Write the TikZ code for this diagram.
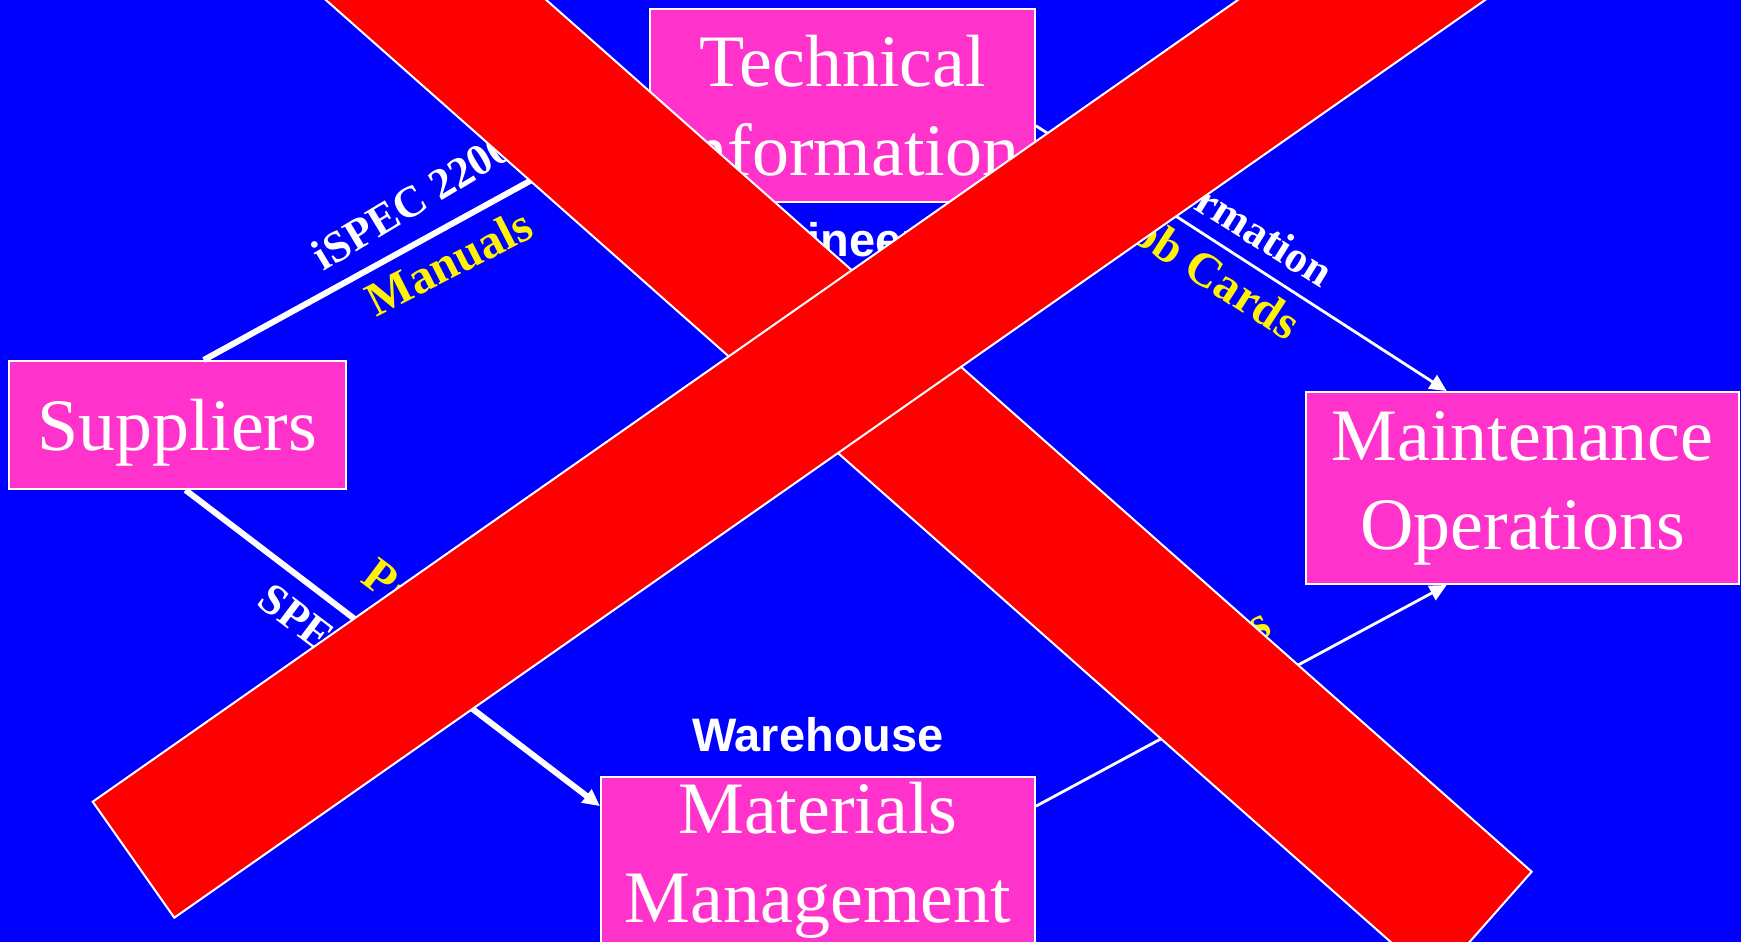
\documentclass[tikz,border=0pt]{standalone}
\usepackage{fontspec}
\setmainfont{Liberation Serif}
\newfontfamily\labelsans{Liberation Sans}
\usetikzlibrary{positioning,arrows.meta}
\definecolor{slideblue}{RGB}{0,0,255}
\definecolor{unitpink}{RGB}{255,51,204}
\tikzset{unit/.style={rectangle,draw=white,line width=1pt,fill=unitpink,text=white,inner sep=0pt,align=center,font=\fontsize{37}{44.5}\selectfont},
	 feed/.style={draw=white,-{Triangle[length=8.5pt,width=8pt]}},
	 feedmain/.style={feed,line width=3pt},
	 feedside/.style={feed,line width=1.4pt},
	 stdname/.style={text=white,inner sep=0pt,font=\fontsize{22}{26}\selectfont\bfseries},
	 dataname/.style={text=yellow,inner sep=0pt,font=\fontsize{24}{28}\selectfont\bfseries},
	 site/.style={text=white,inner sep=0pt,font=\labelsans\bfseries\fontsize{23.5}{28}\selectfont},
	 cross/.style={fill=red,draw=white,line width=1pt}
	 }

\begin{document}
\begin{tikzpicture}[x=0.5pt,y=-0.5pt]
	\useasboundingbox (0,0) rectangle (1741,942);
	\clip (0,0) rectangle (1741,942);
	\fill[slideblue] (0,0) rectangle (1741,942);

	\node[unit,minimum width=192.5pt,minimum height=96.5pt] (tech) at (842.5,105.5) {Technical\\Information};
	\node[unit,minimum width=168.5pt,minimum height=64pt,text depth=0pt] (sup) at (177.5,425) {Suppliers};
	\node[unit,minimum width=216.5pt,minimum height=96pt] (mnt) at (1522.5,488) {Maintenance\\Operations};
	\node[unit,minimum width=217pt,minimum height=83.5pt] (mat) at (818,860.5) {Materials\\Management};
	\node[site,xshift=6pt] (eng) [below=9.5pt of tech] {Engineering};
	\node[site] (wh) [above=12pt of mat] {Warehouse};

	\draw[feedmain] (sup.68) to (tech.183);
	\draw[feedside] (tech.354) to (mnt.128);
	\draw[feedmain] (sup.277) to (mat.166);
	\draw[feedside] (mat.14) to (mnt.232);

	\node[stdname,rotate=31] (ispec) at (412,201) {iSPEC 2200};
	\node[dataname,rotate=27] (manuals) at (449,262) {Manuals};
	\node[stdname,rotate=-32] (info) at (1232,215) {Information};
	\node[dataname,rotate=-33] (cards) at (1207,270) {Job Cards};
	\node[stdname,rotate=-37] (spec) at (349,657) {SPEC 2000};
	\node[dataname,rotate=-37] (parts) at (412,602) {Parts};
	\node[dataname,rotate=28] (stock) at (1218,646) {Parts};

	% the cross over the chart
	\draw[cross] (161.6,-145.3) -- (1434.9,981.1) -- (1531.7,871.7) -- (258.4,-254.7) -- cycle;
	\draw[cross] (92.7,801.7) -- (174.3,917.7) -- (1730.8,-172) -- (1649.2,-288) -- cycle;
\end{tikzpicture}
\end{document}
